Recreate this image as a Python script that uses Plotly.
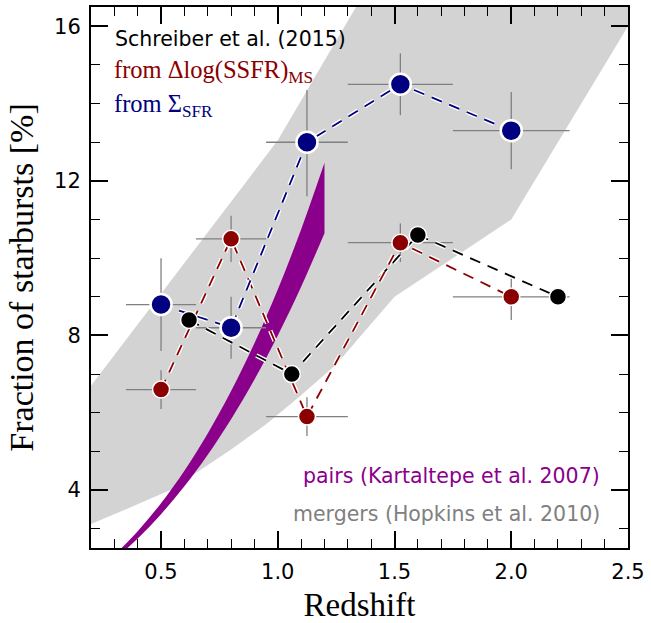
import plotly.graph_objects as go

# --- data ---
z_sigma = [0.5, 0.8, 1.125, 1.525, 2.0]
f_sigma = [8.8, 8.2, 13.0, 14.5, 13.3]
zerr_sigma = [0.15, 0.15, 0.175, 0.225, 0.25]
ferr_sigma_up = [1.2, 0.8, 1.35, 0.8, 1.0]
ferr_sigma_lo = [1.2, 0.8, 1.4, 0.8, 1.0]

z_ssfr = [0.5, 0.8, 1.125, 1.525, 2.0]
f_ssfr = [6.6, 10.5, 5.9, 10.4, 9.0]
zerr_ssfr = [0.15, 0.15, 0.175, 0.225, 0.25]
ferr_ssfr = [0.5, 0.6, 0.5, 0.5, 0.6]

z_black = [0.62, 1.06, 1.6, 2.2]
f_black = [8.4, 7.0, 10.6, 9.0]

# pairs band (Kartaltepe et al. 2007)
z_pairs = [0.3, 0.4, 0.5, 0.6, 0.7, 0.8, 0.9, 1.0, 1.1, 1.2]
f_pairs_lo = [2.197, 2.744, 3.375, 4.096, 4.913, 5.832, 6.859, 8.0, 9.261, 10.648]
f_pairs_hi = [2.315, 2.935, 3.660, 4.500, 5.463, 6.560, 7.799, 9.190, 10.744, 12.467]

# mergers region (Hopkins et al. 2010), outline
z_merg = [0.2, 1.0, 1.5, 2.5, 2.5, 2.0, 1.5, 1.25, 1.1, 0.95, 0.8, 0.65, 0.54, 0.35, 0.2]
f_merg = [6.7, 13.05, 18.2, 18.2, 16.0, 11.0, 9.0, 7.25, 6.45, 5.7, 5.05, 4.45, 4.0, 3.5, 3.12]

NAVY = "#000080"
DRED = "#8B0000"
PURP = "#8B008B"
GREY = "#808080"

fig = go.Figure()

fig.add_trace(go.Scatter(x=z_merg, y=f_merg, mode="lines", fill="toself",
                         fillcolor="#d3d3d3", line=dict(width=0), hoverinfo="skip"))
fig.add_trace(go.Scatter(x=z_pairs, y=f_pairs_lo, mode="lines", line=dict(width=0, shape="spline"),
                         hoverinfo="skip"))
fig.add_trace(go.Scatter(x=z_pairs, y=f_pairs_hi, mode="lines", fill="tonexty", fillcolor=PURP,
                         line=dict(width=0, shape="spline"), hoverinfo="skip"))

# error bars
for zz, ff, ex, eyu, eyl in [(z_ssfr, f_ssfr, zerr_ssfr, ferr_ssfr, ferr_ssfr),
                             (z_sigma, f_sigma, zerr_sigma, ferr_sigma_up, ferr_sigma_lo)]:
    fig.add_trace(go.Scatter(x=zz, y=ff, mode="markers", marker=dict(size=1, opacity=0),
                             error_x=dict(type="data", array=ex, color=GREY, thickness=1.3, width=0),
                             error_y=dict(type="data", array=eyu, arrayminus=eyl, color=GREY,
                                          thickness=1.3, width=0),
                             hoverinfo="skip"))

DASH = "11px,8px"
for zz, ff, col in [(z_black, f_black, "black"), (z_ssfr, f_ssfr, DRED), (z_sigma, f_sigma, NAVY)]:
    fig.add_trace(go.Scatter(x=zz, y=ff, mode="lines", line=dict(color="white", width=4.5, dash=DASH),
                             hoverinfo="skip"))
    fig.add_trace(go.Scatter(x=zz, y=ff, mode="lines", line=dict(color=col, width=1.8, dash=DASH),
                             hoverinfo="skip"))

fig.add_trace(go.Scatter(x=z_black, y=f_black, mode="markers",
                         marker=dict(size=17, color="black", line=dict(color="white", width=1.5))))
fig.add_trace(go.Scatter(x=z_ssfr, y=f_ssfr, mode="markers",
                         marker=dict(size=17, color=DRED, line=dict(color="white", width=1.5))))
fig.add_trace(go.Scatter(x=z_sigma, y=f_sigma, mode="markers",
                         marker=dict(size=21, color=NAVY, line=dict(color="white", width=2.5))))

L, R, T, B = 91, 628, 5, 549
W, H = 651, 623
def px(x):
    return (x - L) / (R - L)
def py(y):
    return (B - y) / (B - T)

sans = "DejaVu Sans"
serif = "Liberation Serif"
ann = [
    dict(text="Schreiber et al. (2015)", x=px(113), y=py(37), xanchor="left", yanchor="middle",
         font=dict(family=sans, size=20.5, color="black")),
    dict(text="from \u0394log(SSFR)<sub>MS</sub>", x=px(112), y=py(70), xanchor="left", yanchor="middle",
         font=dict(family=serif, size=24.5, color=DRED)),
    dict(text="from \u03a3<sub>SFR</sub>", x=px(112), y=py(104), xanchor="left", yanchor="middle",
         font=dict(family=serif, size=24.5, color=NAVY)),
    dict(text="pairs (Kartaltepe et al. 2007)", x=px(602), y=py(477), xanchor="right", yanchor="middle",
         font=dict(family=sans, size=20.5, color=PURP)),
    dict(text="mergers (Hopkins et al. 2010)", x=px(602), y=py(515), xanchor="right", yanchor="middle",
         font=dict(family=sans, size=20.5, color=GREY)),
]
for a in ann:
    a.update(xref="paper", yref="paper", showarrow=False)

axis_common = dict(showline=True, linecolor="black", linewidth=2, mirror="ticks",
                   ticks="inside", ticklen=17, tickwidth=1.5, tickcolor="black",
                   showgrid=False, zeroline=False,
                   tickfont=dict(family=sans, size=21, color="black"))

fig.update_layout(
    width=W, height=H, margin=dict(l=L, r=W - R, t=T, b=H - B),
    paper_bgcolor="white", plot_bgcolor="white", showlegend=False,
    annotations=ann,
    xaxis=dict(range=[0.2, 2.5], tickvals=[0.5, 1.0, 1.5, 2.0, 2.5],
               ticktext=["0.5", "1.0", "1.5", "2.0", "2.5"],
               minor=dict(ticks="inside", ticklen=9, tickwidth=1.2, tickcolor="black", dtick=0.1, tick0=0),
               title=dict(text="Redshift", font=dict(family=serif, size=33, color="black"), standoff=11),
               ticklabelstandoff=4, **axis_common),
    yaxis=dict(range=[2.5, 16.5], tickvals=[4, 8, 12, 16],
               minor=dict(ticks="inside", ticklen=9, tickwidth=1.2, tickcolor="black", dtick=1, tick0=0),
               title=dict(text="Fraction of starbursts [%]", font=dict(family=serif, size=34, color="black"),
                          standoff=10),
               ticklabelstandoff=4, **axis_common),
)

fig.write_html("out.html")
